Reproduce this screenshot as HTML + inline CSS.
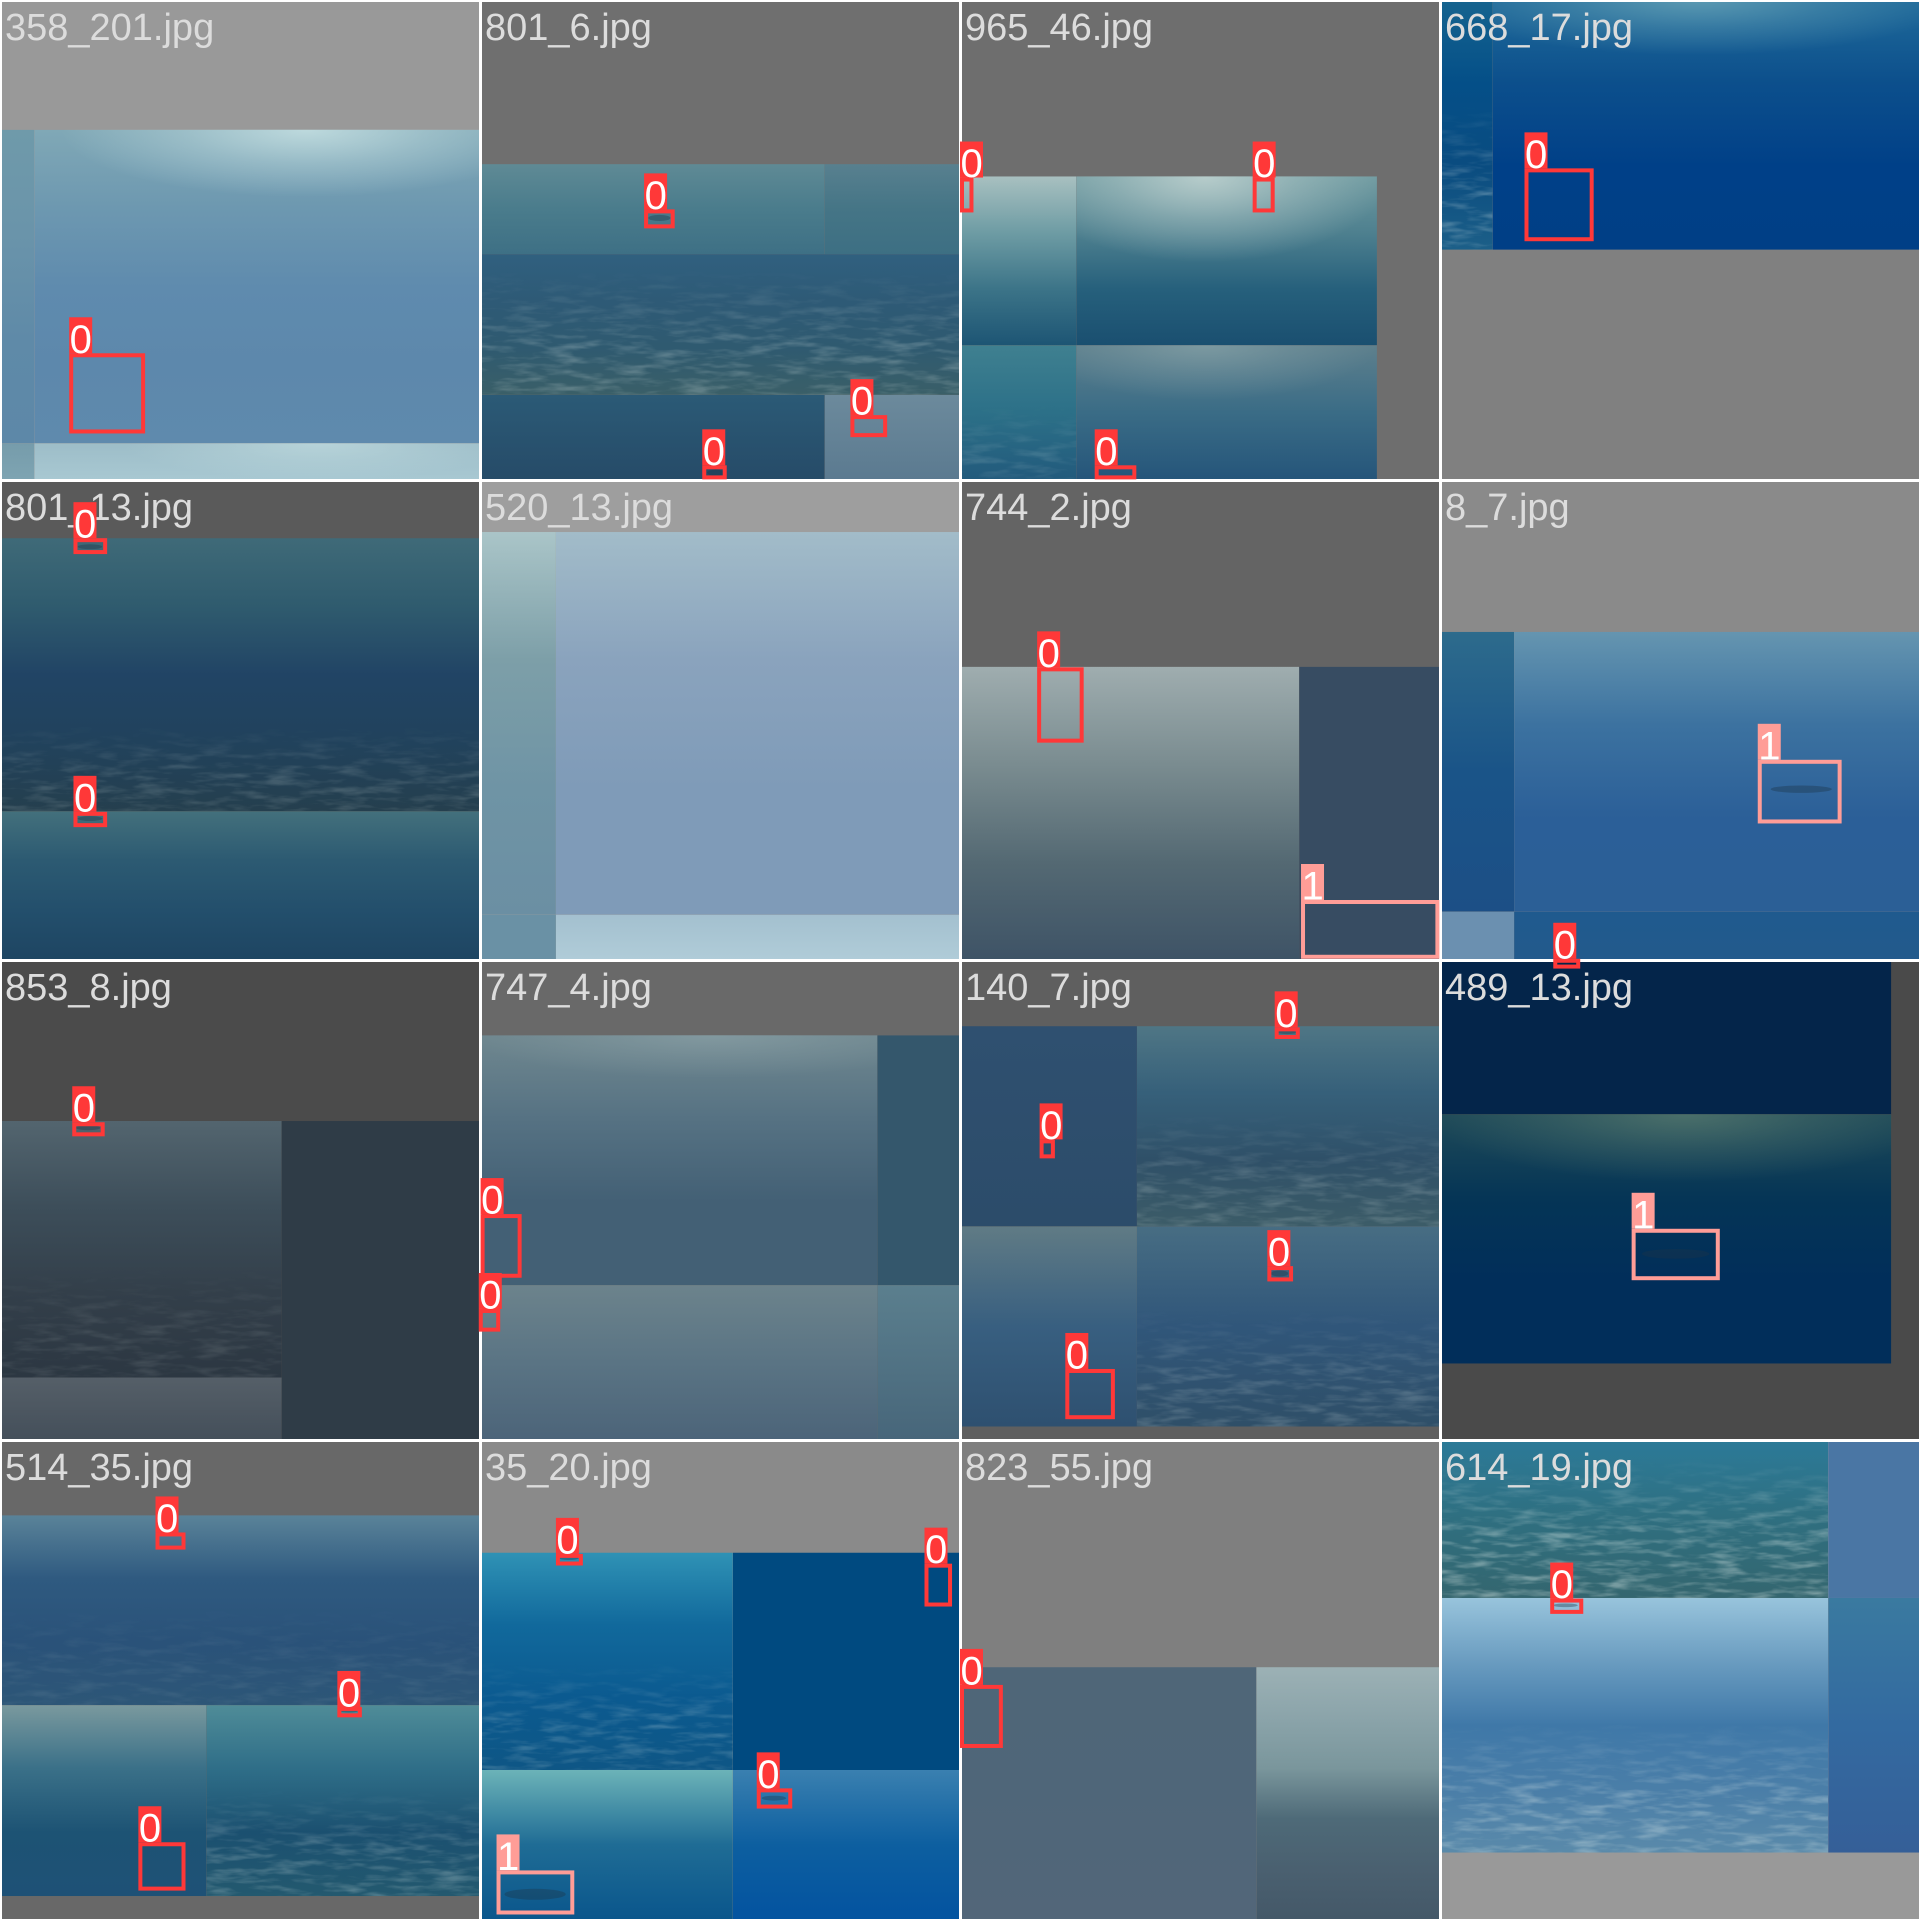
<!DOCTYPE html>
<html lang="en">
<head>
<meta charset="utf-8">
<title>Detection mosaic</title>
<style>
html,body{margin:0;padding:0;background:#fff;width:1920px;height:1920px;overflow:hidden}
svg{display:block}
text{font-family:"Liberation Sans",Arial,sans-serif}
</style>
</head>
<body>
<svg id="mosaic" xmlns="http://www.w3.org/2000/svg" width="1920" height="1920" viewBox="0 0 1920 1920">
  <defs>
    <filter id="floor" x="0" y="0" width="100%" height="100%">
      <feTurbulence type="fractalNoise" baseFrequency="0.03 0.14" numOctaves="3" seed="7"/>
      <feColorMatrix type="matrix" values="0 0 0 0 0.8  0 0 0 0 0.88  0 0 0 0 0.85  2.6 0 0 0 -1.15"/>
    </filter>
    <linearGradient id="fadeIn" x1="0" y1="0" x2="0" y2="1">
      <stop offset="0" stop-color="#000"/>
      <stop offset="0.6" stop-color="#fff"/>
      <stop offset="1" stop-color="#fff"/>
    </linearGradient>
    <mask id="floorFade" maskContentUnits="objectBoundingBox" maskUnits="objectBoundingBox" x="0" y="0" width="1" height="1">
      <rect x="0" y="0" width="1" height="1" fill="url(#fadeIn)"/>
    </mask>
  </defs>
  <g id="tiles"></g>
  <g id="overlay"></g>
</svg>
<script>
// Units for all tile geometry: 784 units = one 480px tile.
const tileNames = ['358_201.jpg','801_6.jpg','965_46.jpg','668_17.jpg','801_13.jpg','520_13.jpg','744_2.jpg','8_7.jpg','853_8.jpg','747_4.jpg','140_7.jpg','489_13.jpg','514_35.jpg','35_20.jpg','823_55.jpg','614_19.jpg'];
const tileBackgrounds = ['#999999','#6f6f6f','#6e6e6e','#808080','#5a5a5a','#9e9e9e','#646464','#8a8a8a','#4b4b4b','#696969','#5f5f5f','#4a4a4a','#686868','#8a8a8a','#7f7f7f','#999999'];
const classColors = ['#ff3838','#ff9d97'];
const tilePanels = [
 [[0,212,56,724,['#6f9aaa','#6a94aa','#5f8aa8','#5d88a8']],[56,212,784,724,['#80a8b6','#6d98b0','#5f8bae','#5d88ac','#5f8aad'],[500,400,110,'#c8e2e4',.85]],[0,724,56,784,['#769cab','#7ea4b2']],[56,724,784,784,['#9dbdc8','#a8c8d2'],[520,320,60,'#c8e2e4',.6]]],
 [[0,268,563,415,['#5f8a95','#4a7c8c','#3e7085']],[563,268,784,415,['#58808f','#457586','#3d6f83']],[0,415,784,645,['#30607f','#2e5a76','#2f5a70','#3a5f68']],[0,645,563,784,['#2b5a76','#264b68']],[563,645,784,784,['#6c8a9c','#5b7a90']]],
 [[0,288,190,564,['#a8c0c0','#6e9ca4','#3c7488','#1d5574']],[190,288,681,564,['#6f9aa0','#4e808f','#26607c','#1a4f70'],[400,300,140,'#bfd2d0',.9]],[0,564,190,784,['#3f8090','#2c7088','#225a7c']],[190,564,681,784,['#5e808d','#3a6c86','#25557a'],[400,280,90,'#90aaae',.6]]],
 [[0,0,86,408,['#16648f','#044f88','#0a4c80','#1c5f88']],[86,0,784,408,['#1f6a9a','#0c4f8c','#004088','#003f86'],[420,420,90,'#6aa5b8',.8]],[0,408,784,784,['#808080','#808080']]],
 [[0,95,784,541,['#3f6a78','#2f5b6e','#214465','#21425c','#253f4e']],[0,541,784,784,['#43707c','#2c5a72','#234f6c','#1e4562']]],
 [[0,85,124,710,['#aac5c8','#7d9fa8','#6f94a5','#6b8fa3']],[124,85,784,710,['#a2bcc9','#8aa3bd','#7f9bb8','#7f9bb8']],[0,710,124,784,['#6a91a5','#6a91a5']],[124,710,784,784,['#a3c0cf','#b0ccd8']]],
 [[0,305,554,784,['#9fadaf','#7a8c90','#546973','#3e5366']],[554,305,784,784,['#374c62','#374c62']]],
 [[0,248,121,705,['#2d6b8c','#1a5488','#1c4f86']],[121,248,784,705,['#6595b0','#3c72a0','#2b5f98','#2b5f96']],[0,705,121,784,['#6b90b0','#6b90b0']],[121,705,784,784,['#1f5a8e','#235a8c']]],
 [[0,263,460,682,['#53656f','#3d4e5a','#333f4a','#2c3742']],[460,263,784,784,['#2f3c47','#2f3c47']],[0,682,460,784,['#555f68','#444f5a']]],
 [[0,123,649,531,['#6f878f','#567283','#436075','#436075'],[380,400,70,'#8aa0a6',.7]],[649,123,784,531,['#34576c','#34576c']],[0,531,649,784,['#6c838c','#5a7484','#4c6479']],[649,531,784,784,['#5b7f8e','#47667a']]],
 [[0,108,289,435,['#2f5070','#2c4c6a']],[289,108,784,435,['#4f7685','#36607a','#2f5068','#3c5c68']],[0,435,289,762,['#607b85','#385f80','#2e5070']],[289,435,784,762,['#476d83','#30567a','#2f4f68']]],
 [[0,0,737,252,['#04254a','#04254a']],[0,252,737,659,['#1f4a58','#053556','#012e5a','#012e5a'],[400,420,110,'#5d7f72',.7]]],
 [[0,123,784,433,['#5a8399','#2f5a80','#2a5279','#2d5677']],[0,433,337,745,['#7a999e','#3a7088','#1d5374','#1e5176']],[337,433,784,745,['#4f8c98','#2f6e88','#1b5070','#23596f']]],
 [[0,184,413,539,['#2f92b5','#11699c','#0b5a90','#0e5685']],[413,184,784,539,['#004a80','#004a80']],[0,539,413,784,['#6cb3b8','#1f6c95','#0a568c']],[413,539,784,784,['#3a80b0','#0d5fa0','#0353a0']]],
 [[0,371,484,784,['#4f6678','#4f6679','#526679']],[484,371,784,784,['#9cb1b5','#8ba4aa','#7a969c','#4e6a78','#4a6070','#445868']]],
 [[0,0,634,258,['#2c7a98','#2f6f80','#34666f']],[634,0,784,258,['#4a76a4','#4a76a4']],[0,258,634,674,['#98c4dc','#6a9cc0','#3f78a8','#4a7ea8','#5a8aaa']],[634,258,784,674,['#3a7aa0','#336aa0','#355f98']]]
];
const tileFloors = [
 [],[[0,440,784,645,.22]],[[0,660,190,784,.12]],[[0,170,86,408,.25]],
 [[0,400,784,541,.16]],[],[],[],
 [[0,500,460,682,.1]],[],[[289,250,784,435,.18],[289,570,784,762,.18]],[],
 [[0,270,784,433,.07],[337,570,784,745,.24]],[[0,360,413,539,.2]],[],[[0,30,634,258,.38],[0,460,634,674,.3]]
];
const tileFish = [
 [1,293,356,18,5],[4,147,109,20,4],[4,147,553,20,4],[8,144,274,20,4],[10,534,118,16,3],[10,522,512,14,5],[12,570,443,14,2],[13,145,193,16,3],[13,480,585,20,4],[13,90,742,50,9],[7,590,505,50,6],[11,385,480,55,8],[15,205,270,20,3],[1,385,772,14,5]
];
const tileBoxes = [
 [[0,113,577,237,708]],
 [[0,268,342,318,373],[0,605,678,665,714],[0,363,760,403,783]],
 [[0,0,290,22,347],[0,478,290,514,347],[0,220,760,288,783]],
 [[0,138,275,251,394]],
 [[0,120,95,175,121],[0,120,542,175,567]],
 [],
 [[0,126,306,202,429],[1,557,686,783,782]],
 [[1,519,457,656,561],[0,185,782,229,798]],
 [[0,118,265,171,288]],
 [[0,1,415,68,519],[0,-2,570,33,607]],
 [[0,130,293,155,324],[0,514,110,555,129],[0,502,500,544,525],[0,172,668,253,750]],
 [[1,313,439,457,523]],
 [[0,254,151,303,179],[0,551,436,591,453],[0,226,657,303,736]],
 [[0,124,186,168,205],[0,726,202,771,272],[0,452,569,510,602],[1,27,703,154,775]],
 [[0,0,400,70,503]],
 [[0,180,259,234,284]]
];

const NS = 'http://www.w3.org/2000/svg';
const tileSize = 480;
const unit = tileSize / 784;
const u = v => v * unit;
const svgRoot = document.getElementById('mosaic');
const defs = svgRoot.querySelector('defs');
const tilesLayer = document.getElementById('tiles');
const overlayLayer = document.getElementById('overlay');
function make(tag, attrs, parent) {
  const el = document.createElementNS(NS, tag);
  for (const k in attrs) el.setAttribute(k, attrs[k]);
  parent.appendChild(el);
  return el;
}
let gradId = 0;
function gradient(colors) {
  const id = 'g' + (gradId++);
  const g = make('linearGradient', {id: id, x1: 0, y1: 0, x2: 0, y2: 1}, defs);
  colors.forEach((c, i) => make('stop', {offset: i / Math.max(1, colors.length - 1), 'stop-color': c}, g));
  return id;
}
function glowGradient(color) {
  const id = 'g' + (gradId++);
  const g = make('radialGradient', {id: id}, defs);
  make('stop', {offset: 0, 'stop-color': color, 'stop-opacity': 1}, g);
  make('stop', {offset: 0.5, 'stop-color': color, 'stop-opacity': 0.45}, g);
  make('stop', {offset: 1, 'stop-color': color, 'stop-opacity': 0}, g);
  return id;
}
tileNames.forEach((name, i) => {
  const ox = (i % 4) * tileSize;
  const oy = Math.floor(i / 4) * tileSize;
  const slug = name.replace('.jpg', '').replace('_', '-');
  const g = make('g', {transform: 'translate(' + ox + ' ' + oy + ')'}, tilesLayer);
  
  
  const bg = make('rect', {x: 0, y: 0, width: tileSize, height: tileSize, fill: tileBackgrounds[i]}, g);
  
  
  tilePanels[i].forEach(p => {
    const w = u(p[2] - p[0]);
    const h = u(p[3] - p[1]);
    const inner = make('svg', {x: u(p[0]), y: u(p[1]), width: w, height: h, overflow: 'hidden'}, g);
    
    
    make('rect', {x: 0, y: 0, width: w, height: h, fill: 'url(#' + gradient(p[4]) + ')'}, inner);
    if (p[5]) {
      const gl = p[5];
      make('ellipse', {cx: u(gl[0] - p[0]), cy: 0, rx: u(gl[1]), ry: u(gl[2]), fill: 'url(#' + glowGradient(gl[3]) + ')', opacity: gl[4]}, inner);
    }
  });
  tileFloors[i].forEach(f => {
    const wrap = make('g', {mask: 'url(#floorFade)'}, g);
    
    
    make('rect', {x: u(f[0]), y: u(f[1]), width: u(f[2] - f[0]), height: u(f[3] - f[1]), filter: 'url(#floor)', opacity: f[4]}, wrap);
  });
});
tileFish.forEach(f => {
  const ox = (f[0] % 4) * tileSize;
  const oy = Math.floor(f[0] / 4) * tileSize;
  const fish = make('ellipse', {cx: ox + u(f[1]), cy: oy + u(f[2]), rx: u(f[3]), ry: u(f[4]), fill: '#1c3446', opacity: 0.38}, tilesLayer);
  
  
});
// white tile borders
[[0,0,2,1920],[479,0,3,1920],[959,0,3,1920],[1439,0,3,1920],[1919,0,1,1920],[0,0,1920,2],[0,479,1920,3],[0,959,1920,3],[0,1439,1920,3],[0,1919,1920,1]].forEach(b => {
  const line = make('rect', {x: b[0], y: b[1], width: b[2], height: b[3], fill: '#ffffff'}, overlayLayer);
  
  
});
tileNames.forEach((name, i) => {
  const ox = (i % 4) * tileSize;
  const oy = Math.floor(i / 4) * tileSize;
  const label = make('text', {x: ox + 5, y: oy + 40, 'font-size': 38, fill: '#dcdcdc'}, overlayLayer);
  
  
  label.textContent = name;
  tileBoxes[i].forEach(b => {
    const color = classColors[b[0]];
    const x0 = ox + u(b[1]), y0 = oy + u(b[2]), x1 = ox + u(b[3]), y1 = oy + u(b[4]);
    const box = make('rect', {x: x0 + 2, y: y0 + 2, width: x1 - x0 - 4, height: y1 - y0 - 4, fill: 'none', stroke: color, 'stroke-width': 4}, overlayLayer);
    
    
    const tag = make('rect', {x: x0, y: y0 - 36, width: 23, height: 36, fill: color}, overlayLayer);
    
    
    const digit = make('text', {x: x0 + 0.5, y: y0 - 0.5, 'font-size': 40, fill: '#ffffff'}, overlayLayer);
    
    
    digit.textContent = String(b[0]);
  });
});
</script>
</body>
</html>
